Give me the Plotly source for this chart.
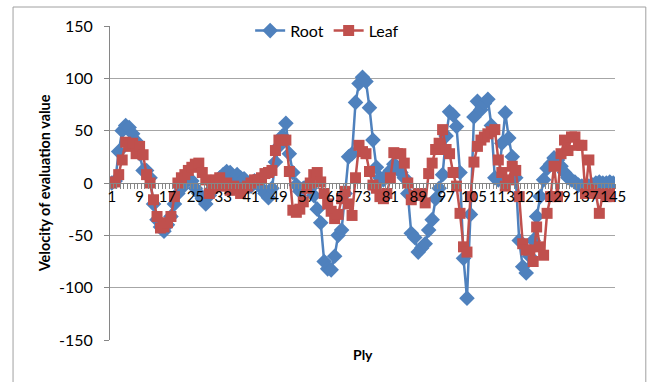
import plotly.graph_objects as go

# Ply index (categories 1..145)
ply = list(range(1, 146))

# Velocity of evaluation value, root node
root = [
    0, 2, 30, 50, 55, 53, 47, 40, 28, 12,
    12, 5, -20, -35, -42, -46, -40, -32, -20, -10,
    -5, 0, 5, 2, -5, -10, -15, -20, -12, -5,
    0, 5, 8, 11, 10, 6, 8, 5, 4, 0,
    -3, 2, 0, -5, -10, -14, -5, 20, 35, 45,
    57, 28, 10, -2, -8, -5, -3, -5, -12, -25,
    -38, -75, -82, -83, -70, -50, -45, -10, 25, 28,
    77, 95, 101, 97, 72, 41, 15, 5, 3, 8,
    12, 18, 15, 10, 5, -10, -48, -52, -66, -62,
    -58, -45, -35, -15, -5, 8, 45, 68, 65, 54,
    10, -72, -110, -30, 63, 78, 70, 76, 80, 55,
    5, 3, 38, 67, 43, 25, 5, -55, -80, -86,
    -70, -55, -32, -13, 3, 14, 18, 24, 22, 16,
    10, 5, 3, 1, -2, -3, -4, -3, -2, 0,
    1, 0, 0, 1, 0,
]

# Velocity of evaluation value, leaf nodes
leaf = [
    0, 1, 8, 22, 39, 35, 38, 28, 35, 27,
    8, 0, -16, -32, -43, -42, -38, -32, -13, 0,
    5, 8, 12, 15, 18, 19, 10, 3, -10, -5,
    3, 5, -3, 0, -7, -3, -5, -10, -5, -3,
    0, 3, 3, 5, 9, 10, 12, 31, 41, 41,
    41, 11, -26, -28, -25, -18, -5, 0, 8, 10,
    1, -10, -20, -27, -34, -30, -15, -8, -20, -31,
    5, 36, 30, 28, 11, -2, -5, -13, -15, -10,
    5, 29, 28, 28, 19, 0, -16, -12, -10, -10,
    -19, 9, 19, 32, 38, 51, 32, 28, 10, -3,
    -29, -61, -66, -13, 20, 35, 41, 44, 47, 49,
    51, 22, 10, -3, 3, 16, 12, -13, -58, -64,
    -64, -75, -42, -61, -69, -29, -13, 16, -13, 28,
    41, 31, 44, 44, 36, 36, -10, 22, -7, -10,
    -29, -10, -13, -10, -13,
]

x_tick_labels = [str(v) for v in range(1, 146, 8)]
y_ticks = [-150, -100, -50, 0, 50, 100, 150]
y_tick_labels = [str(v) for v in y_ticks]

FONT = "Lato"
BLUE = "#4F81BD"
RED = "#C0504D"
GRID = "#A6A6A6"
AXIS = "#868686"

fig = go.Figure()
fig.add_trace(go.Scatter(
    x=ply, y=root, name="Root", mode="lines+markers",
    line=dict(color=BLUE, width=2.5),
    marker=dict(symbol="diamond", size=12, color=BLUE),
))
fig.add_trace(go.Scatter(
    x=ply, y=leaf, name="Leaf", mode="lines+markers",
    line=dict(color=RED, width=2.5),
    marker=dict(symbol="square", size=11, color=RED),
))

fig.update_layout(
    width=651, height=382,
    margin=dict(l=110, r=36, t=26, b=42),
    paper_bgcolor="white", plot_bgcolor="white",
    font=dict(family=FONT, size=16, color="black"),
    showlegend=True,
    legend=dict(
        orientation="h", x=0.43, xanchor="center", y=0.985, yanchor="middle",
        bgcolor="rgba(0,0,0,0)", font=dict(size=16), itemwidth=30,
        tracegroupgap=0,
    ),
    xaxis=dict(
        range=[0.5, 145.5], anchor="free", position=0.5,
        tickmode="array", tickvals=[int(t) for t in x_tick_labels],
        ticktext=x_tick_labels, ticks="", tickangle=0, showgrid=False,
        showline=True, linecolor=AXIS, linewidth=1,
        minor=dict(ticks="outside", tick0=0.5, dtick=1, ticklen=5,
                   tickcolor=AXIS, showgrid=False),
        tickfont=dict(size=15), zeroline=False, ticklabelstandoff=0,
    ),
    yaxis=dict(
        range=[-150, 150], tickmode="array", tickvals=y_ticks,
        ticktext=y_tick_labels,
        showgrid=True, gridcolor=GRID, gridwidth=1,
        showline=True, linecolor=AXIS, linewidth=1,
        ticks="outside", ticklen=5, tickcolor=AXIS,
        zeroline=False, tickfont=dict(size=16), ticklabelstandoff=8,
    ),
    annotations=[
        dict(text="<b>Ply</b>", xref="paper", yref="paper", x=0.5, y=-0.047,
             xanchor="center", yanchor="middle", showarrow=False,
             font=dict(size=14, family=FONT)),
        dict(text="<b>Velocity of evaluation value</b>", xref="paper", yref="paper",
             x=-0.13, y=0.5, xanchor="center", yanchor="middle", textangle=-90,
             showarrow=False, font=dict(size=14.5, family=FONT)),
    ],
    shapes=[
        dict(type="rect", xref="paper", yref="paper",
             x0=-0.192, x1=1.061, y0=-0.3, y1=1.0605,
             line=dict(color="#A0A0A0", width=1), fillcolor="rgba(0,0,0,0)",
             layer="below"),
    ],
)

fig.write_html("out.html")
